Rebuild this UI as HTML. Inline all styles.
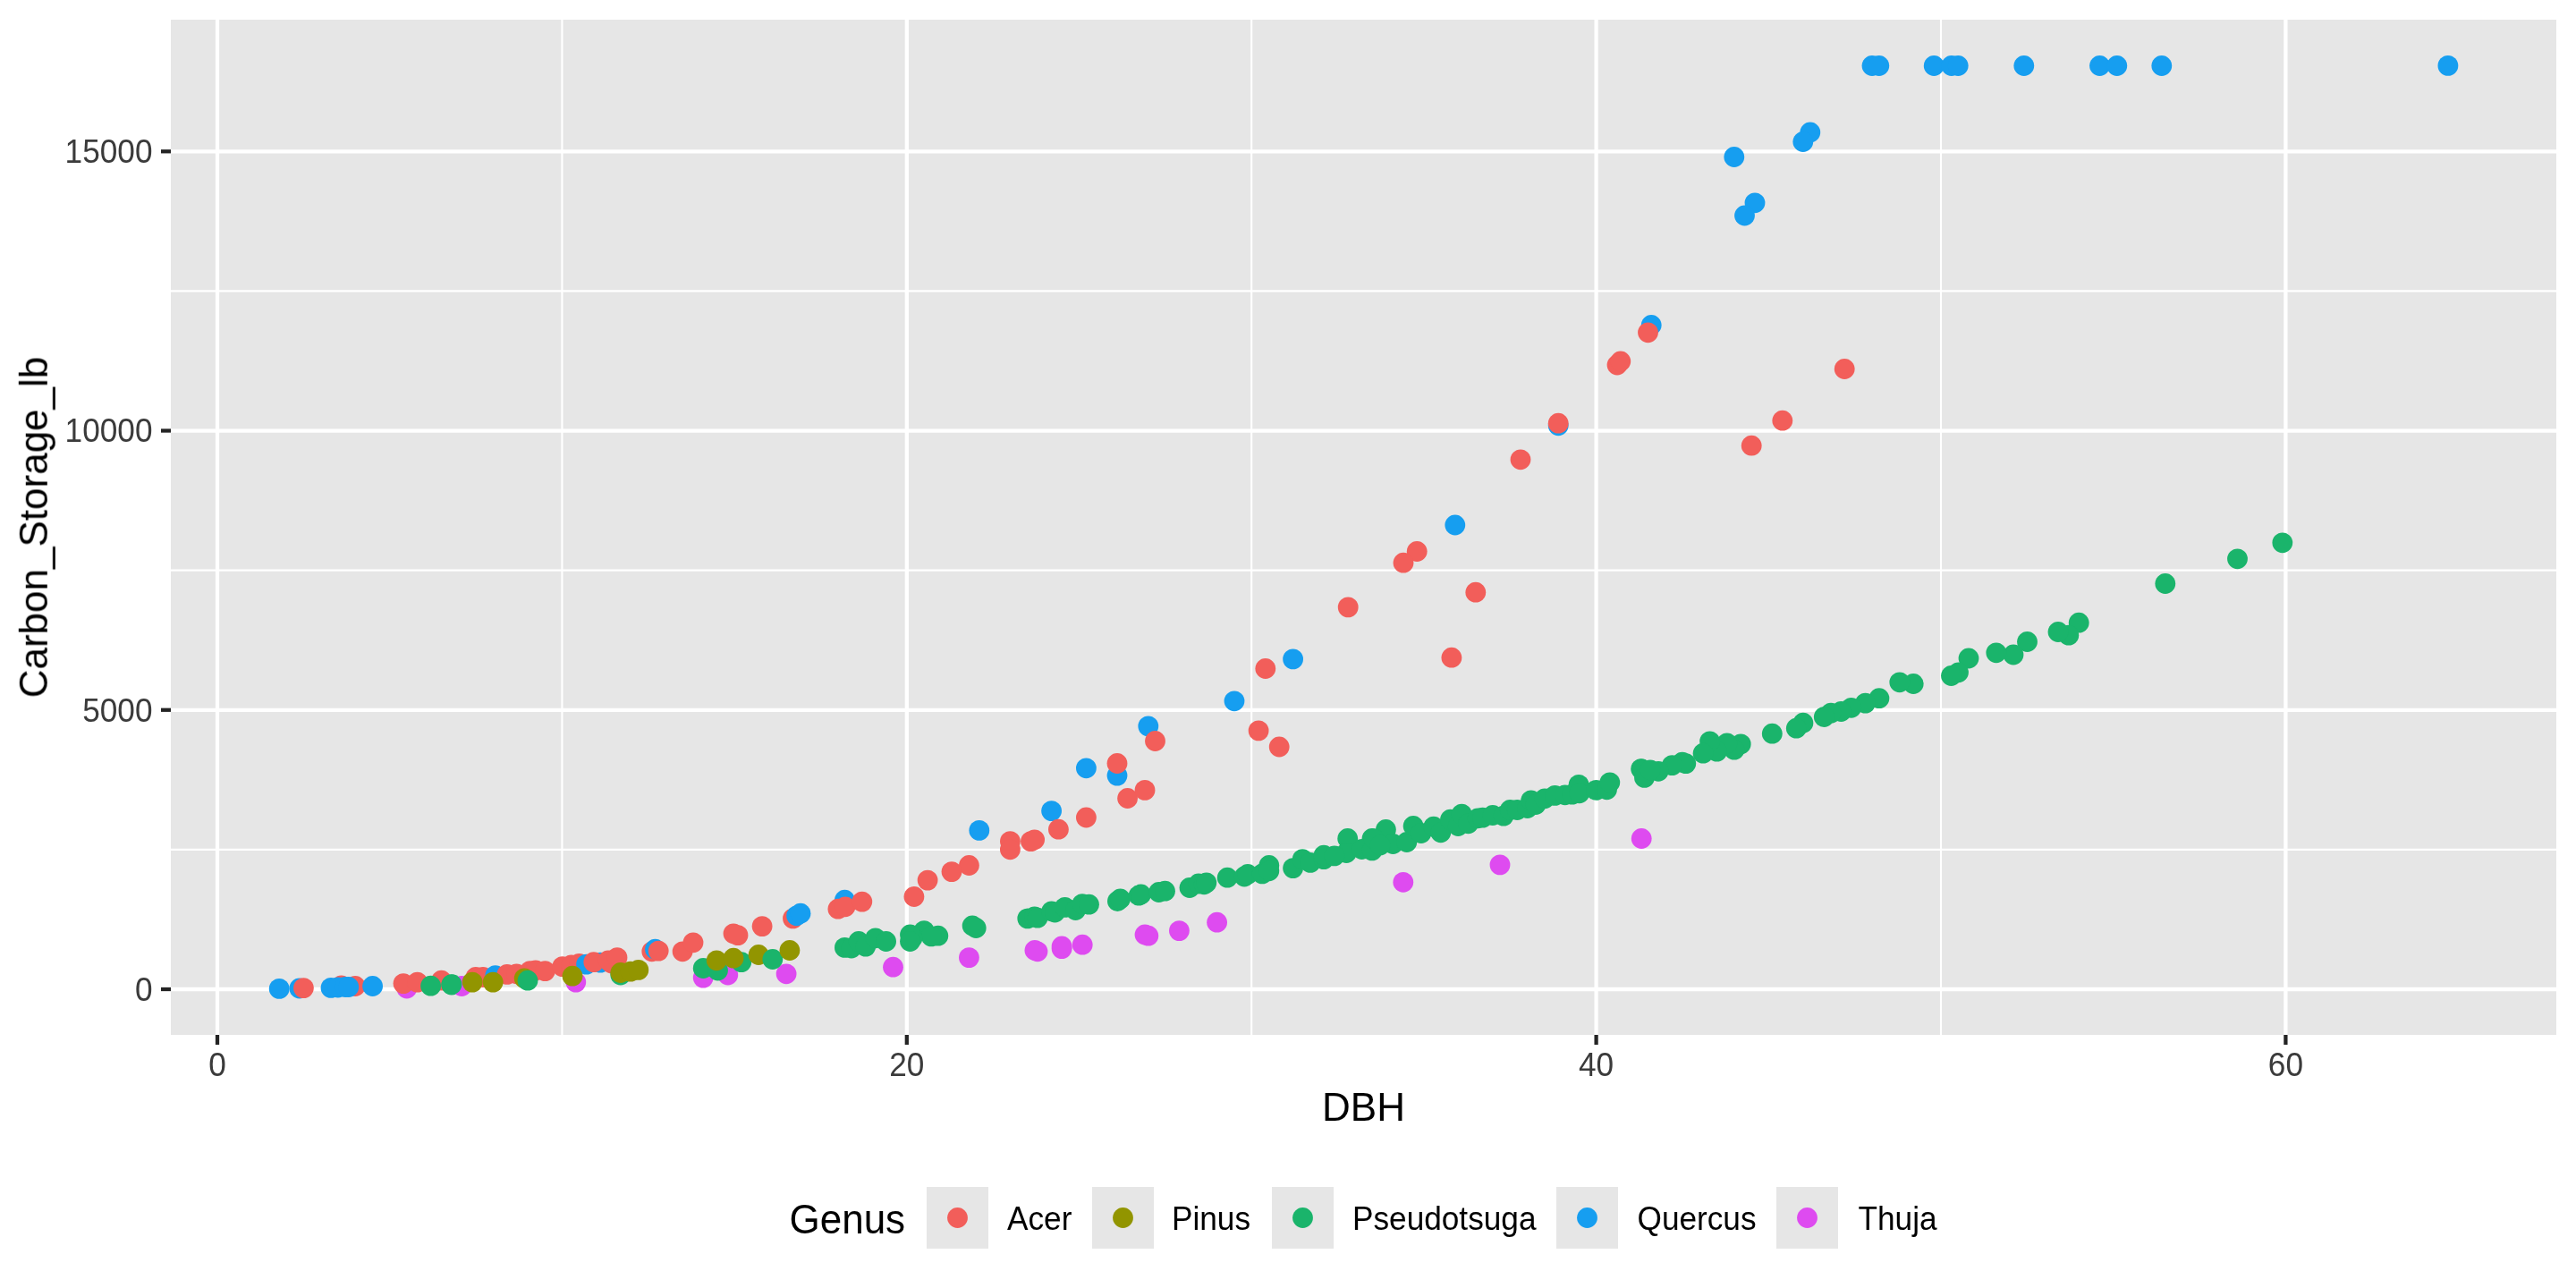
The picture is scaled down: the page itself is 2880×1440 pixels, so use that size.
<!DOCTYPE html>
<html><head><meta charset="utf-8"><title>Carbon storage vs DBH</title>
<style>html,body{margin:0;padding:0;background:#fff;width:2880px;height:1440px;overflow:hidden}svg{display:block;font-family:"Liberation Sans",sans-serif}text{font-family:"Liberation Sans",sans-serif}</style>
</head><body>
<svg width="2880" height="1440" viewBox="0 0 2880 1440">
<rect x="0" y="0" width="2880" height="1440" fill="#FFFFFF"/>
<rect x="191" y="22" width="2667" height="1135" fill="#E6E6E6"/>
<line x1="628.40" y1="22" x2="628.40" y2="1157" stroke="#FFF" stroke-width="2.13"/>
<line x1="1399.20" y1="22" x2="1399.20" y2="1157" stroke="#FFF" stroke-width="2.13"/>
<line x1="2170.00" y1="22" x2="2170.00" y2="1157" stroke="#FFF" stroke-width="2.13"/>
<line x1="191" y1="949.88" x2="2858" y2="949.88" stroke="#FFF" stroke-width="2.13"/>
<line x1="191" y1="637.65" x2="2858" y2="637.65" stroke="#FFF" stroke-width="2.13"/>
<line x1="191" y1="325.41" x2="2858" y2="325.41" stroke="#FFF" stroke-width="2.13"/>
<line x1="243.00" y1="22" x2="243.00" y2="1157" stroke="#FFF" stroke-width="4.27"/>
<line x1="1013.80" y1="22" x2="1013.80" y2="1157" stroke="#FFF" stroke-width="4.27"/>
<line x1="1784.60" y1="22" x2="1784.60" y2="1157" stroke="#FFF" stroke-width="4.27"/>
<line x1="2555.40" y1="22" x2="2555.40" y2="1157" stroke="#FFF" stroke-width="4.27"/>
<line x1="191" y1="1106.00" x2="2858" y2="1106.00" stroke="#FFF" stroke-width="4.27"/>
<line x1="191" y1="793.76" x2="2858" y2="793.76" stroke="#FFF" stroke-width="4.27"/>
<line x1="191" y1="481.53" x2="2858" y2="481.53" stroke="#FFF" stroke-width="4.27"/>
<line x1="191" y1="169.29" x2="2858" y2="169.29" stroke="#FFF" stroke-width="4.27"/>
<circle cx="2093.0" cy="73.5" r="11.4" fill="#169EF0"/>
<circle cx="2100.8" cy="73.5" r="11.4" fill="#169EF0"/>
<circle cx="2162.2" cy="73.5" r="11.4" fill="#169EF0"/>
<circle cx="2181.8" cy="73.5" r="11.4" fill="#169EF0"/>
<circle cx="2189.2" cy="73.5" r="11.4" fill="#169EF0"/>
<circle cx="2262.8" cy="73.5" r="11.4" fill="#169EF0"/>
<circle cx="2347.5" cy="73.5" r="11.4" fill="#169EF0"/>
<circle cx="2366.8" cy="73.5" r="11.4" fill="#169EF0"/>
<circle cx="2416.8" cy="73.5" r="11.4" fill="#169EF0"/>
<circle cx="2736.9" cy="73.4" r="11.4" fill="#169EF0"/>
<circle cx="1938.8" cy="175.5" r="11.4" fill="#169EF0"/>
<circle cx="1962.0" cy="226.8" r="11.4" fill="#169EF0"/>
<circle cx="1950.5" cy="241.0" r="11.4" fill="#169EF0"/>
<circle cx="2023.8" cy="148.0" r="11.4" fill="#169EF0"/>
<circle cx="2015.8" cy="158.5" r="11.4" fill="#169EF0"/>
<circle cx="1846.2" cy="363.5" r="11.4" fill="#169EF0"/>
<circle cx="1842.5" cy="371.8" r="11.4" fill="#F25E5A"/>
<circle cx="1808.0" cy="408.0" r="11.4" fill="#F25E5A"/>
<circle cx="1811.8" cy="404.0" r="11.4" fill="#F25E5A"/>
<circle cx="2062.2" cy="412.5" r="11.4" fill="#F25E5A"/>
<circle cx="1742.2" cy="475.8" r="11.4" fill="#169EF0"/>
<circle cx="1742.2" cy="473.2" r="11.4" fill="#F25E5A"/>
<circle cx="1700.0" cy="513.8" r="11.4" fill="#F25E5A"/>
<circle cx="1992.8" cy="470.2" r="11.4" fill="#F25E5A"/>
<circle cx="1958.2" cy="498.2" r="11.4" fill="#F25E5A"/>
<circle cx="1626.8" cy="587.0" r="11.4" fill="#169EF0"/>
<circle cx="1584.2" cy="616.5" r="11.4" fill="#F25E5A"/>
<circle cx="1569.0" cy="629.2" r="11.4" fill="#F25E5A"/>
<circle cx="2551.8" cy="606.8" r="11.4" fill="#1AB46B"/>
<circle cx="2501.5" cy="624.8" r="11.4" fill="#1AB46B"/>
<circle cx="2420.8" cy="652.5" r="11.4" fill="#1AB46B"/>
<circle cx="2324.2" cy="696.2" r="11.4" fill="#1AB46B"/>
<circle cx="2312.8" cy="710.2" r="11.4" fill="#1AB46B"/>
<circle cx="2301.0" cy="706.5" r="11.4" fill="#1AB46B"/>
<circle cx="2266.5" cy="717.5" r="11.4" fill="#1AB46B"/>
<circle cx="2251.0" cy="732.0" r="11.4" fill="#1AB46B"/>
<circle cx="2231.8" cy="729.8" r="11.4" fill="#1AB46B"/>
<circle cx="2201.0" cy="736.0" r="11.4" fill="#1AB46B"/>
<circle cx="2189.5" cy="751.8" r="11.4" fill="#1AB46B"/>
<circle cx="2181.5" cy="755.5" r="11.4" fill="#1AB46B"/>
<circle cx="2139.2" cy="764.5" r="11.4" fill="#1AB46B"/>
<circle cx="2123.8" cy="762.8" r="11.4" fill="#1AB46B"/>
<circle cx="2100.9" cy="780.7" r="11.4" fill="#1AB46B"/>
<circle cx="2085.5" cy="786.1" r="11.4" fill="#1AB46B"/>
<circle cx="2069.7" cy="791.3" r="11.4" fill="#1AB46B"/>
<circle cx="2058.4" cy="795.5" r="11.4" fill="#1AB46B"/>
<circle cx="2047.0" cy="797.1" r="11.4" fill="#1AB46B"/>
<circle cx="2039.3" cy="801.5" r="11.4" fill="#1AB46B"/>
<circle cx="2015.9" cy="808.2" r="11.4" fill="#1AB46B"/>
<circle cx="2008.3" cy="814.2" r="11.4" fill="#1AB46B"/>
<circle cx="1981.3" cy="820.2" r="11.4" fill="#1AB46B"/>
<circle cx="1946.2" cy="831.9" r="11.4" fill="#1AB46B"/>
<circle cx="1938.9" cy="838.2" r="11.4" fill="#1AB46B"/>
<circle cx="1930.8" cy="830.9" r="11.4" fill="#1AB46B"/>
<circle cx="1919.5" cy="840.2" r="11.4" fill="#1AB46B"/>
<circle cx="1911.6" cy="828.9" r="11.4" fill="#1AB46B"/>
<circle cx="1904.1" cy="842.2" r="11.4" fill="#1AB46B"/>
<circle cx="1884.8" cy="853.6" r="11.4" fill="#1AB46B"/>
<circle cx="1880.8" cy="852.2" r="11.4" fill="#1AB46B"/>
<circle cx="1869.4" cy="855.6" r="11.4" fill="#1AB46B"/>
<circle cx="1854.1" cy="862.3" r="11.4" fill="#1AB46B"/>
<circle cx="1834.7" cy="859.6" r="11.4" fill="#1AB46B"/>
<circle cx="1506.7" cy="937.5" r="11.4" fill="#1AB46B"/>
<circle cx="1534.0" cy="937.5" r="11.4" fill="#1AB46B"/>
<circle cx="1549.4" cy="927.5" r="11.4" fill="#1AB46B"/>
<circle cx="1557.4" cy="943.5" r="11.4" fill="#1AB46B"/>
<circle cx="1572.8" cy="941.5" r="11.4" fill="#1AB46B"/>
<circle cx="1580.1" cy="923.5" r="11.4" fill="#1AB46B"/>
<circle cx="1588.8" cy="931.5" r="11.4" fill="#1AB46B"/>
<circle cx="1602.8" cy="924.2" r="11.4" fill="#1AB46B"/>
<circle cx="1610.8" cy="930.8" r="11.4" fill="#1AB46B"/>
<circle cx="1621.5" cy="916.2" r="11.4" fill="#1AB46B"/>
<circle cx="1630.2" cy="923.5" r="11.4" fill="#1AB46B"/>
<circle cx="1634.2" cy="910.1" r="11.4" fill="#1AB46B"/>
<circle cx="1641.6" cy="920.8" r="11.4" fill="#1AB46B"/>
<circle cx="1652.2" cy="914.8" r="11.4" fill="#1AB46B"/>
<circle cx="1657.6" cy="914.2" r="11.4" fill="#1AB46B"/>
<circle cx="1668.9" cy="911.5" r="11.4" fill="#1AB46B"/>
<circle cx="1681.0" cy="912.1" r="11.4" fill="#1AB46B"/>
<circle cx="1688.3" cy="905.5" r="11.4" fill="#1AB46B"/>
<circle cx="1696.3" cy="905.5" r="11.4" fill="#1AB46B"/>
<circle cx="1707.7" cy="903.5" r="11.4" fill="#1AB46B"/>
<circle cx="1711.7" cy="894.8" r="11.4" fill="#1AB46B"/>
<circle cx="1717.0" cy="899.5" r="11.4" fill="#1AB46B"/>
<circle cx="1727.0" cy="892.8" r="11.4" fill="#1AB46B"/>
<circle cx="1738.4" cy="889.4" r="11.4" fill="#1AB46B"/>
<circle cx="1749.7" cy="888.8" r="11.4" fill="#1AB46B"/>
<circle cx="1757.7" cy="888.1" r="11.4" fill="#1AB46B"/>
<circle cx="1765.1" cy="877.4" r="11.4" fill="#1AB46B"/>
<circle cx="1765.8" cy="886.8" r="11.4" fill="#1AB46B"/>
<circle cx="1784.4" cy="883.4" r="11.4" fill="#1AB46B"/>
<circle cx="1796.5" cy="882.8" r="11.4" fill="#1AB46B"/>
<circle cx="1799.8" cy="874.8" r="11.4" fill="#1AB46B"/>
<circle cx="1835.2" cy="860.0" r="11.4" fill="#1AB46B"/>
<circle cx="1838.5" cy="869.4" r="11.4" fill="#1AB46B"/>
<circle cx="1505.3" cy="953.5" r="11.4" fill="#1AB46B"/>
<circle cx="1522.7" cy="949.5" r="11.4" fill="#1AB46B"/>
<circle cx="1534.0" cy="950.9" r="11.4" fill="#1AB46B"/>
<circle cx="1568.8" cy="986.3" r="11.4" fill="#DE4BF0"/>
<circle cx="1677.0" cy="966.9" r="11.4" fill="#DE4BF0"/>
<circle cx="1835.2" cy="937.5" r="11.4" fill="#DE4BF0"/>
<circle cx="312.2" cy="1105.4" r="11.4" fill="#169EF0"/>
<circle cx="334.8" cy="1105.0" r="11.4" fill="#169EF0"/>
<circle cx="339.4" cy="1104.6" r="11.4" fill="#F25E5A"/>
<circle cx="370.0" cy="1104.4" r="11.4" fill="#169EF0"/>
<circle cx="381.6" cy="1101.9" r="11.4" fill="#F25E5A"/>
<circle cx="377.9" cy="1104.0" r="11.4" fill="#169EF0"/>
<circle cx="397.2" cy="1102.5" r="11.4" fill="#F25E5A"/>
<circle cx="386.0" cy="1103.5" r="11.4" fill="#169EF0"/>
<circle cx="389.8" cy="1103.5" r="11.4" fill="#169EF0"/>
<circle cx="416.6" cy="1102.5" r="11.4" fill="#169EF0"/>
<circle cx="454.8" cy="1105.0" r="11.4" fill="#DE4BF0"/>
<circle cx="451.0" cy="1099.6" r="11.4" fill="#F25E5A"/>
<circle cx="466.6" cy="1098.1" r="11.4" fill="#F25E5A"/>
<circle cx="493.5" cy="1096.2" r="11.4" fill="#F25E5A"/>
<circle cx="481.6" cy="1102.2" r="11.4" fill="#1AB46B"/>
<circle cx="504.8" cy="1101.0" r="11.4" fill="#1AB46B"/>
<circle cx="1380.0" cy="783.8" r="11.4" fill="#169EF0"/>
<circle cx="1414.8" cy="747.5" r="11.4" fill="#F25E5A"/>
<circle cx="1445.6" cy="736.9" r="11.4" fill="#169EF0"/>
<circle cx="1507.2" cy="678.9" r="11.4" fill="#F25E5A"/>
<circle cx="1649.8" cy="662.2" r="11.4" fill="#F25E5A"/>
<circle cx="1622.9" cy="735.2" r="11.4" fill="#F25E5A"/>
<circle cx="1283.8" cy="811.9" r="11.4" fill="#169EF0"/>
<circle cx="1291.5" cy="828.5" r="11.4" fill="#F25E5A"/>
<circle cx="1214.4" cy="858.8" r="11.4" fill="#169EF0"/>
<circle cx="1249.0" cy="867.1" r="11.4" fill="#169EF0"/>
<circle cx="1249.0" cy="853.5" r="11.4" fill="#F25E5A"/>
<circle cx="1260.6" cy="892.5" r="11.4" fill="#F25E5A"/>
<circle cx="1280.0" cy="883.4" r="11.4" fill="#F25E5A"/>
<circle cx="1175.6" cy="906.6" r="11.4" fill="#169EF0"/>
<circle cx="1183.4" cy="927.2" r="11.4" fill="#F25E5A"/>
<circle cx="1214.4" cy="914.0" r="11.4" fill="#F25E5A"/>
<circle cx="1094.8" cy="928.4" r="11.4" fill="#169EF0"/>
<circle cx="1129.4" cy="940.6" r="11.4" fill="#F25E5A"/>
<circle cx="1129.4" cy="949.8" r="11.4" fill="#F25E5A"/>
<circle cx="1152.5" cy="940.6" r="11.4" fill="#F25E5A"/>
<circle cx="1156.6" cy="938.8" r="11.4" fill="#F25E5A"/>
<circle cx="1083.4" cy="967.5" r="11.4" fill="#F25E5A"/>
<circle cx="1064.0" cy="974.6" r="11.4" fill="#F25E5A"/>
<circle cx="1037.1" cy="984.1" r="11.4" fill="#F25E5A"/>
<circle cx="1021.9" cy="1002.5" r="11.4" fill="#F25E5A"/>
<circle cx="1087.1" cy="1035.0" r="11.4" fill="#1AB46B"/>
<circle cx="1091.2" cy="1037.5" r="11.4" fill="#1AB46B"/>
<circle cx="1033.1" cy="1040.6" r="11.4" fill="#1AB46B"/>
<circle cx="1048.8" cy="1046.2" r="11.4" fill="#1AB46B"/>
<circle cx="1041.2" cy="1046.9" r="11.4" fill="#1AB46B"/>
<circle cx="1020.0" cy="1048.8" r="11.4" fill="#1AB46B"/>
<circle cx="1083.4" cy="1070.6" r="11.4" fill="#DE4BF0"/>
<circle cx="1148.8" cy="1026.9" r="11.4" fill="#1AB46B"/>
<circle cx="1156.6" cy="1025.0" r="11.4" fill="#1AB46B"/>
<circle cx="1160.0" cy="1026.2" r="11.4" fill="#1AB46B"/>
<circle cx="1175.6" cy="1018.8" r="11.4" fill="#1AB46B"/>
<circle cx="1179.4" cy="1020.0" r="11.4" fill="#1AB46B"/>
<circle cx="1190.6" cy="1014.4" r="11.4" fill="#1AB46B"/>
<circle cx="1202.5" cy="1017.5" r="11.4" fill="#1AB46B"/>
<circle cx="1210.0" cy="1010.6" r="11.4" fill="#1AB46B"/>
<circle cx="1217.5" cy="1011.2" r="11.4" fill="#1AB46B"/>
<circle cx="1249.4" cy="1007.5" r="11.4" fill="#1AB46B"/>
<circle cx="1252.5" cy="1005.0" r="11.4" fill="#1AB46B"/>
<circle cx="1273.1" cy="1001.2" r="11.4" fill="#1AB46B"/>
<circle cx="1275.6" cy="1000.0" r="11.4" fill="#1AB46B"/>
<circle cx="1295.6" cy="997.5" r="11.4" fill="#1AB46B"/>
<circle cx="1302.5" cy="996.2" r="11.4" fill="#1AB46B"/>
<circle cx="1330.0" cy="992.5" r="11.4" fill="#1AB46B"/>
<circle cx="1340.0" cy="988.0" r="11.4" fill="#1AB46B"/>
<circle cx="1156.9" cy="1062.5" r="11.4" fill="#DE4BF0"/>
<circle cx="1160.0" cy="1063.8" r="11.4" fill="#DE4BF0"/>
<circle cx="1187.1" cy="1060.6" r="11.4" fill="#DE4BF0"/>
<circle cx="1210.2" cy="1056.2" r="11.4" fill="#DE4BF0"/>
<circle cx="1280.0" cy="1045.0" r="11.4" fill="#DE4BF0"/>
<circle cx="1283.8" cy="1046.2" r="11.4" fill="#DE4BF0"/>
<circle cx="1318.4" cy="1040.6" r="11.4" fill="#DE4BF0"/>
<circle cx="1346.2" cy="988.8" r="11.4" fill="#1AB46B"/>
<circle cx="1348.8" cy="986.9" r="11.4" fill="#1AB46B"/>
<circle cx="1372.2" cy="981.2" r="11.4" fill="#1AB46B"/>
<circle cx="1391.2" cy="980.0" r="11.4" fill="#1AB46B"/>
<circle cx="1395.0" cy="977.5" r="11.4" fill="#1AB46B"/>
<circle cx="1411.2" cy="976.9" r="11.4" fill="#1AB46B"/>
<circle cx="1418.8" cy="967.5" r="11.4" fill="#1AB46B"/>
<circle cx="1418.8" cy="973.8" r="11.4" fill="#1AB46B"/>
<circle cx="1445.6" cy="970.6" r="11.4" fill="#1AB46B"/>
<circle cx="1456.2" cy="960.6" r="11.4" fill="#1AB46B"/>
<circle cx="1465.0" cy="964.4" r="11.4" fill="#1AB46B"/>
<circle cx="1480.0" cy="960.6" r="11.4" fill="#1AB46B"/>
<circle cx="1480.0" cy="956.2" r="11.4" fill="#1AB46B"/>
<circle cx="1491.9" cy="956.9" r="11.4" fill="#1AB46B"/>
<circle cx="1536.2" cy="938.0" r="11.4" fill="#1AB46B"/>
<circle cx="1360.6" cy="1031.2" r="11.4" fill="#DE4BF0"/>
<circle cx="1407.1" cy="816.9" r="11.4" fill="#F25E5A"/>
<circle cx="1430.2" cy="835.0" r="11.4" fill="#F25E5A"/>
<circle cx="516.2" cy="1102.5" r="11.4" fill="#DE4BF0"/>
<circle cx="643.8" cy="1098.1" r="11.4" fill="#DE4BF0"/>
<circle cx="786.2" cy="1093.1" r="11.4" fill="#DE4BF0"/>
<circle cx="813.8" cy="1090.0" r="11.4" fill="#DE4BF0"/>
<circle cx="531.9" cy="1092.5" r="11.4" fill="#F25E5A"/>
<circle cx="540.0" cy="1092.5" r="11.4" fill="#F25E5A"/>
<circle cx="553.8" cy="1090.6" r="11.4" fill="#169EF0"/>
<circle cx="566.9" cy="1089.4" r="11.4" fill="#F25E5A"/>
<circle cx="577.5" cy="1088.8" r="11.4" fill="#F25E5A"/>
<circle cx="592.5" cy="1085.6" r="11.4" fill="#F25E5A"/>
<circle cx="598.8" cy="1085.0" r="11.4" fill="#F25E5A"/>
<circle cx="609.4" cy="1085.6" r="11.4" fill="#F25E5A"/>
<circle cx="628.8" cy="1080.6" r="11.4" fill="#F25E5A"/>
<circle cx="638.8" cy="1078.8" r="11.4" fill="#F25E5A"/>
<circle cx="647.5" cy="1077.5" r="11.4" fill="#F25E5A"/>
<circle cx="655.6" cy="1078.1" r="11.4" fill="#169EF0"/>
<circle cx="671.2" cy="1076.2" r="11.4" fill="#169EF0"/>
<circle cx="663.8" cy="1075.6" r="11.4" fill="#F25E5A"/>
<circle cx="683.8" cy="1076.9" r="11.4" fill="#F25E5A"/>
<circle cx="680.0" cy="1073.8" r="11.4" fill="#F25E5A"/>
<circle cx="690.0" cy="1070.6" r="11.4" fill="#F25E5A"/>
<circle cx="728.8" cy="1063.8" r="11.4" fill="#F25E5A"/>
<circle cx="732.5" cy="1061.2" r="11.4" fill="#169EF0"/>
<circle cx="736.2" cy="1063.1" r="11.4" fill="#F25E5A"/>
<circle cx="763.1" cy="1063.8" r="11.4" fill="#F25E5A"/>
<circle cx="775.0" cy="1053.8" r="11.4" fill="#F25E5A"/>
<circle cx="820.0" cy="1043.8" r="11.4" fill="#F25E5A"/>
<circle cx="505.0" cy="1100.6" r="11.4" fill="#1AB46B"/>
<circle cx="693.8" cy="1090.0" r="11.4" fill="#1AB46B"/>
<circle cx="528.1" cy="1098.1" r="11.4" fill="#929500"/>
<circle cx="551.2" cy="1098.1" r="11.4" fill="#929500"/>
<circle cx="586.2" cy="1093.8" r="11.4" fill="#929500"/>
<circle cx="640.0" cy="1091.2" r="11.4" fill="#929500"/>
<circle cx="693.8" cy="1087.5" r="11.4" fill="#929500"/>
<circle cx="705.0" cy="1086.2" r="11.4" fill="#929500"/>
<circle cx="713.8" cy="1084.4" r="11.4" fill="#929500"/>
<circle cx="590.0" cy="1096.2" r="11.4" fill="#1AB46B"/>
<circle cx="786.2" cy="1082.5" r="11.4" fill="#1AB46B"/>
<circle cx="802.5" cy="1085.0" r="11.4" fill="#1AB46B"/>
<circle cx="828.8" cy="1075.6" r="11.4" fill="#1AB46B"/>
<circle cx="801.2" cy="1073.8" r="11.4" fill="#929500"/>
<circle cx="820.0" cy="1071.2" r="11.4" fill="#929500"/>
<circle cx="879.1" cy="1088.8" r="11.4" fill="#DE4BF0"/>
<circle cx="998.5" cy="1081.2" r="11.4" fill="#DE4BF0"/>
<circle cx="825.0" cy="1045.6" r="11.4" fill="#F25E5A"/>
<circle cx="852.1" cy="1035.6" r="11.4" fill="#F25E5A"/>
<circle cx="886.5" cy="1026.9" r="11.4" fill="#F25E5A"/>
<circle cx="890.6" cy="1023.8" r="11.4" fill="#169EF0"/>
<circle cx="895.0" cy="1021.2" r="11.4" fill="#169EF0"/>
<circle cx="944.4" cy="1006.2" r="11.4" fill="#169EF0"/>
<circle cx="936.9" cy="1016.2" r="11.4" fill="#F25E5A"/>
<circle cx="945.0" cy="1013.8" r="11.4" fill="#F25E5A"/>
<circle cx="963.8" cy="1008.1" r="11.4" fill="#F25E5A"/>
<circle cx="848.1" cy="1067.5" r="11.4" fill="#929500"/>
<circle cx="863.8" cy="1072.5" r="11.4" fill="#1AB46B"/>
<circle cx="882.9" cy="1062.5" r="11.4" fill="#929500"/>
<circle cx="944.4" cy="1059.4" r="11.4" fill="#1AB46B"/>
<circle cx="951.9" cy="1060.0" r="11.4" fill="#1AB46B"/>
<circle cx="960.0" cy="1052.5" r="11.4" fill="#1AB46B"/>
<circle cx="967.8" cy="1058.1" r="11.4" fill="#1AB46B"/>
<circle cx="978.8" cy="1048.8" r="11.4" fill="#1AB46B"/>
<circle cx="990.6" cy="1052.5" r="11.4" fill="#1AB46B"/>
<circle cx="1017.5" cy="1045.0" r="11.4" fill="#1AB46B"/>
<circle cx="1017.5" cy="1052.5" r="11.4" fill="#1AB46B"/>
<circle cx="1845.0" cy="861.0" r="11.4" fill="#1AB46B"/>
<circle cx="1543.0" cy="945.0" r="11.4" fill="#1AB46B"/>
<circle cx="1187.1" cy="1058.0" r="11.4" fill="#DE4BF0"/>
<line x1="243.00" y1="1157" x2="243.00" y2="1168" stroke="#242424" stroke-width="4.27"/>
<line x1="1013.80" y1="1157" x2="1013.80" y2="1168" stroke="#242424" stroke-width="4.27"/>
<line x1="1784.60" y1="1157" x2="1784.60" y2="1168" stroke="#242424" stroke-width="4.27"/>
<line x1="2555.40" y1="1157" x2="2555.40" y2="1168" stroke="#242424" stroke-width="4.27"/>
<line x1="180" y1="1106.00" x2="191" y2="1106.00" stroke="#242424" stroke-width="4.27"/>
<line x1="180" y1="793.76" x2="191" y2="793.76" stroke="#242424" stroke-width="4.27"/>
<line x1="180" y1="481.53" x2="191" y2="481.53" stroke="#242424" stroke-width="4.27"/>
<line x1="180" y1="169.29" x2="191" y2="169.29" stroke="#242424" stroke-width="4.27"/>
<g style="will-change:transform">
<text transform="translate(243.00,1203.3) scale(1,1.06)" x="0" y="0" font-family="Liberation Sans, sans-serif" font-size="35.2" fill="#3B3B3B" text-anchor="middle">0</text>
<text transform="translate(1013.80,1203.3) scale(1,1.06)" x="0" y="0" font-family="Liberation Sans, sans-serif" font-size="35.2" fill="#3B3B3B" text-anchor="middle">20</text>
<text transform="translate(1784.60,1203.3) scale(1,1.06)" x="0" y="0" font-family="Liberation Sans, sans-serif" font-size="35.2" fill="#3B3B3B" text-anchor="middle">40</text>
<text transform="translate(2555.40,1203.3) scale(1,1.06)" x="0" y="0" font-family="Liberation Sans, sans-serif" font-size="35.2" fill="#3B3B3B" text-anchor="middle">60</text>
<text transform="translate(170.5,1118.90) scale(1,1.06)" x="0" y="0" font-family="Liberation Sans, sans-serif" font-size="35.2" fill="#3B3B3B" text-anchor="end">0</text>
<text transform="translate(170.5,806.66) scale(1,1.06)" x="0" y="0" font-family="Liberation Sans, sans-serif" font-size="35.2" fill="#3B3B3B" text-anchor="end">5000</text>
<text transform="translate(170.5,494.43) scale(1,1.06)" x="0" y="0" font-family="Liberation Sans, sans-serif" font-size="35.2" fill="#3B3B3B" text-anchor="end">10000</text>
<text transform="translate(170.5,182.19) scale(1,1.06)" x="0" y="0" font-family="Liberation Sans, sans-serif" font-size="35.2" fill="#3B3B3B" text-anchor="end">15000</text>
<text transform="translate(1524.5,1252.8) scale(1,1.02)" x="0" y="0" font-family="Liberation Sans, sans-serif" font-size="44" fill="#000" text-anchor="middle">DBH</text>
<text transform="translate(52.8,589.5) rotate(-90)" x="0" y="0" font-family="Liberation Sans, sans-serif" font-size="44" fill="#000" text-anchor="middle">Carbon_Storage_lb</text>
<text transform="translate(882.5,1378.5) scale(1,1.06)" x="0" y="0" font-family="Liberation Sans, sans-serif" font-size="44" fill="#000">Genus</text>
<rect x="1036" y="1327" width="69" height="69" fill="#E6E6E6"/>
<circle cx="1070.5" cy="1361.5" r="11.4" fill="#F25E5A"/>
<text transform="translate(1126,1375.2) scale(1,1.06)" x="0" y="0" font-family="Liberation Sans, sans-serif" font-size="35.2" fill="#000">Acer</text>
<rect x="1221" y="1327" width="69" height="69" fill="#E6E6E6"/>
<circle cx="1255.5" cy="1361.5" r="11.4" fill="#929500"/>
<text transform="translate(1310,1375.2) scale(1,1.06)" x="0" y="0" font-family="Liberation Sans, sans-serif" font-size="35.2" fill="#000">Pinus</text>
<rect x="1422" y="1327" width="69" height="69" fill="#E6E6E6"/>
<circle cx="1456.5" cy="1361.5" r="11.4" fill="#1AB46B"/>
<text transform="translate(1512,1375.2) scale(1,1.06)" x="0" y="0" font-family="Liberation Sans, sans-serif" font-size="35.2" fill="#000">Pseudotsuga</text>
<rect x="1740" y="1327" width="69" height="69" fill="#E6E6E6"/>
<circle cx="1774.5" cy="1361.5" r="11.4" fill="#169EF0"/>
<text transform="translate(1830.5,1375.2) scale(1,1.06)" x="0" y="0" font-family="Liberation Sans, sans-serif" font-size="35.2" fill="#000">Quercus</text>
<rect x="1986" y="1327" width="69" height="69" fill="#E6E6E6"/>
<circle cx="2020.5" cy="1361.5" r="11.4" fill="#DE4BF0"/>
<text transform="translate(2077.5,1375.2) scale(1,1.06)" x="0" y="0" font-family="Liberation Sans, sans-serif" font-size="35.2" fill="#000">Thuja</text>
</g>
</svg>
</body></html>
